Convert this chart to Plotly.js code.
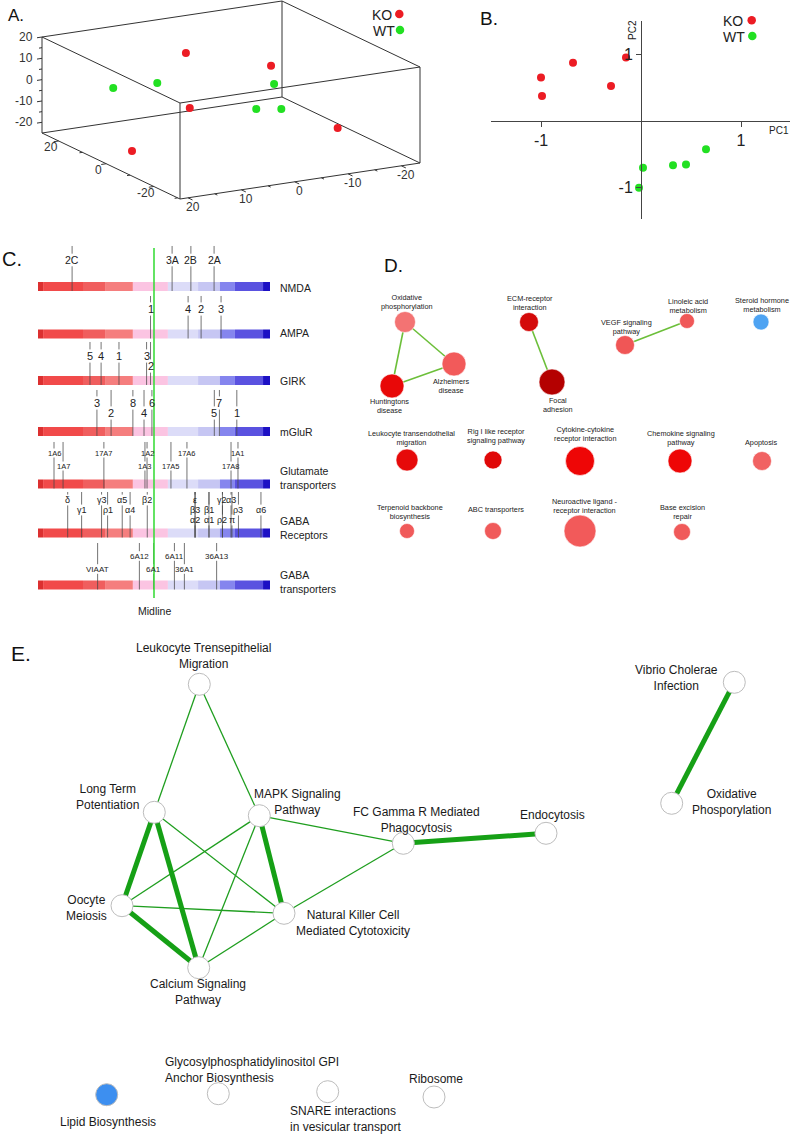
<!DOCTYPE html>
<html><head><meta charset="utf-8">
<script src="https://cdn.plot.ly/plotly-3.0.1.min.js"></script>
<style>html,body{margin:0;padding:0;background:#fff}</style>
</head><body><div id="chart" style="width:800px;height:1135px"></div>
<script>
const F = 'Liberation Sans, Arial, sans-serif';
// ---------- Panel A: 3D PCA (estimated; depth axis, front axis, vertical axis) ----------
const koDepth = [10, 0, -10, -5, -15];
const koFront = [2.1, -9.4, 10.3, 18.9, -15.2];
const koVert  = [14.3, 9.3, 2.2, -17.4, -14.0];
const wtDepth = [15, 5, 5, -5, -5];
const wtFront = [13.5, 9.7, -12.2, -4.4, -9.1];
const wtVert  = [-0.5, 5.8, -2.9, -6.4, -8.1];
const aFrontTicks = [-20, -10, 0, 10, 20];
const aDepthTicks = [-20, 0, 20];
const aVertTicks = [-20, -10, 0, 10, 20];
// ---------- Panel B: 2D PCA ----------
const koPC1 = [-1.0, -0.99, -0.68, -0.30, -0.15];
const koPC2 = [0.65, 0.37, 0.87, 0.52, 0.95];
const wtPC1 = [0.02, -0.02, 0.32, 0.45, 0.65];
const wtPC2 = [-0.71, -1.01, -0.67, -0.66, -0.43];
// ---------- Panel C: gene positions along ranked bar (0-100, midline 50) ----------
const cRowNames = ['NMDA','AMPA','GIRK','mGluR','Glutamate<br>transporters','GABA<br>Receptors','GABA<br>transporters'];
const cSegBreaks = [0, 2.2, 19.4, 28.9, 40.9, 56, 69, 78.4, 84.9, 97, 100];
const cSegColors = ['#dc3030','#f14a4a','#f05e5e','#f57e7e','#fbc4e2','#dcdcf8','#c6c6f3','#8585ee','#5a52e0','#1c10c4'];
const cMidline = 50;
const nmdaGenes = ['2C','3A','2B','2A'];
const nmdaPos = [14.7, 57.8, 65.9, 75.9];
const ampaGenes = ['1','4','2','3'];
const ampaPos = [48.5, 64.7, 70.3, 78.9];
const girkGenes = ['5','4','1','3','2'];
const girkPos = [22.4, 27.2, 34.9, 46.8, 48.5];
const mglurGenes = ['3','2','8','4','6','7','5','1'];
const mglurPos = [25.4, 31.5, 40.9, 45.7, 49.1, 78.2, 76.0, 85.7];
const glutGenes = ['1A6','1A7','17A7','1A3','1A2','17A5','17A6','17A8','1A1'];
const glutPos = [6.9, 10.8, 28.4, 46.1, 47.0, 57.3, 64.2, 83.2, 86.2];
const gabarGenes = ['δ','γ1','γ3','ρ1','α5','α4','β2','ε','β3','α2','β1','α1','γ2','ρ2','α3','π','ρ3','α6'];
const gabarPos = [12.8, 18.8, 27.4, 30.0, 36.3, 39.7, 47.1, 67.7, 67.7, 67.7, 73.7, 73.7, 79.5, 79.5, 83.2, 83.6, 86.4, 96.1];
const gabatGenes = ['VIAAT','6A12','6A1','6A11','36A1','36A13'];
const gabatPos = [25.7, 43.7, 49.8, 58.8, 63.1, 77.0];
const cGenes = [nmdaGenes, ampaGenes, girkGenes, mglurGenes, glutGenes, gabarGenes, gabatGenes];
const cPos = [nmdaPos, ampaPos, girkPos, mglurPos, glutPos, gabarPos, gabatPos];
// ---------- Panel D: KEGG network ----------
const dNames = ['Oxidative<br>phosphorylation','Alzheimers<br>disease','Huntingtons<br>disease','ECM-receptor<br>interaction','Focal<br>adhesion','VEGF signaling<br>pathway','Linoleic acid<br>metabolism','Steroid hormone<br>metabolism','Leukocyte transendothelial<br>migration','Rig I like receptor<br>signaling pathway','Cytokine-cytokine<br>receptor interaction','Chemokine signaling<br>pathway','Apoptosis','Terpenoid backbone<br>biosynthesis','ABC transporters','Neuroactive ligand -<br>receptor interaction','Base excision<br>repair'];
const dSize = [21, 24, 24, 19, 26, 19, 15, 16, 22, 18, 29, 24, 19, 15, 17, 32, 17];
const dColor = ['#f37373','#f25a5a','#e80808','#d40a0a','#b40000','#f05656','#f05858','#4ea3f2','#e60a0a','#e00808','#ee0606','#ee0606','#f16262','#f05a5a','#f05a5a','#f25a5a','#f05a5a'];
const dEdges = [[0,1],[0,2],[2,1],[3,4],[5,6]];
// ---------- Panel E: pathway network ----------
const eNames = ['Leukocyte Trensepithelial<br>Migration','Long Term<br>Potentiation','MAPK Signaling<br>Pathway','FC Gamma R Mediated<br>Phagocytosis','Endocytosis','Oocyte<br>Meiosis','Natural Killer Cell<br>Mediated Cytotoxicity','Calcium Signaling<br>Pathway','Vibrio Cholerae<br>Infection','Oxidative<br>Phosporylation','Lipid Biosynthesis','Glycosylphosphatidylinositol GPI<br>Anchor Biosynthesis','SNARE interactions<br>in vesicular transport','Ribosome'];
const eFill = ['#fff','#fff','#fff','#fff','#fff','#fff','#fff','#fff','#fff','#fff','#3d8ff0','#fff','#fff','#fff'];
const eThin = [[0,1],[0,2],[1,6],[2,5],[2,7],[2,3],[3,6],[5,6],[7,6]];
const eThick = [[1,5],[1,7],[2,6],[3,4],[5,7],[8,9]];

// ===== layout-only settings =====
// Panel A oblique projection of the 3D box onto the page
const boxFront = [-23.5, 21.5], boxDepth = [-31, 27], boxVert = [-25, 20];
const boxOrigin = [42, 37];            // page position of (front max, depth max, vert max)
const frontVec = [240, -36], depthVec = [138, 66], vertVec = [0, 96];
function proj(f, d, z){
  const a = (boxFront[1]-f)/(boxFront[1]-boxFront[0]);
  const b = (boxDepth[1]-d)/(boxDepth[1]-boxDepth[0]);
  const c = (boxVert[1]-z)/(boxVert[1]-boxVert[0]);
  return [boxOrigin[0]+a*frontVec[0]+b*depthVec[0]+c*vertVec[0], boxOrigin[1]+a*frontVec[1]+b*depthVec[1]+c*vertVec[1]];
}
const dX = [405, 454, 392, 529, 552, 625, 687, 761, 407, 493, 580, 680, 762, 407, 493, 580, 682];
const dY = [322, 364, 386, 322, 382, 345, 321, 322, 460, 460, 461, 461, 461, 531, 531, 531, 532];
const dLX = [407, 451, 389, 530, 558, 626, 688, 762, 411, 496, 585, 681, 761, 410, 496, 584, 682];
const dLY = [301.5, 385.7, 405.7, 303, 405, 327, 306, 304.7, 437.5, 436.2, 434, 437.8, 442.3, 511.5, 509.7, 505.7, 511.5];
const eX = [199.3, 154.3, 259.3, 403.3, 546, 122, 284, 198.7, 734.3, 671.7, 106.7, 218.3, 327.7, 434];
const eY = [684.3, 812.3, 815.7, 843.3, 833.3, 905.7, 913.3, 967.7, 682.3, 803.3, 1094.7, 1093.7, 1091.7, 1097];
const eLX = [203, 107, 297, 416, 552.7, 86.7, 352.5, 198, 676.7, 731, 108.3, 162.7, 288.3, 436];
const eLY = [656, 796.7, 802, 819.7, 815, 908.3, 922.5, 992, 677.7, 802.3, 1121.7, 1069.7, 1119.2, 1079];
const eLAnchor = ['center','center','center','center','center','center','center','center','center','center','center','left','left','center'];
const cTiers = [
  [0,0,0,0],
  [0,0,0,0],
  [0,0,0,0,1],
  [0,1,0,1,0,0,1,1],
  [0,1,0,1,0,1,0,1,0],
  [0,1,0,1,0,1,0,0,1,2,1,2,0,2,0,2,1,1],
  [1,0,1,0,1,0]
];
const cLayout = [
  {bar:282, stub:246, tiers:[260], fs:10.5},
  {bar:329.5, stub:296, tiers:[309], fs:11},
  {bar:376, stub:342, tiers:[356,366], fs:11},
  {bar:427, stub:390, tiers:[403,413], fs:11},
  {bar:479.5, stub:442, tiers:[453,466], fs:7.5},
  {bar:528.5, stub:492, tiers:[500,510,520], fs:9},
  {bar:580.5, stub:543, tiers:[556,569], fs:8}
];
const cLabelY = [287.7, 333.3, 381, 431.7, 478, 528.3, 582];
const barH = 9;

const KO = '#ec1c24', WT = '#22e022';
const traces = [];
const shapes = [];
const ann = [];
function A(o){ ann.push(Object.assign({showarrow:false, font:{family:F, size:12, color:'#222'}}, o)); }
function edgeXY(pairs, xs, ys){ const X=[],Y=[]; pairs.forEach(([a,b])=>{X.push(xs[a],xs[b],null);Y.push(ys[a],ys[b],null);}); return {X,Y}; }

// ===== Panel A =====
{
  const bx=[], by=[];
  const seg = (p,q)=>{ bx.push(p[0],q[0],null); by.push(p[1],q[1],null); };
  const Fv = boxFront, Dv = boxDepth, Zv = boxVert;
  // 12 box edges
  for (const d of Dv) for (const z of Zv) seg(proj(Fv[0],d,z), proj(Fv[1],d,z));
  for (const f of Fv) for (const z of Zv) seg(proj(f,Dv[0],z), proj(f,Dv[1],z));
  for (const f of Fv) for (const d of Dv) seg(proj(f,d,Zv[0]), proj(f,d,Zv[1]));
  // vertical axis ticks (left back edge)
  for (let v=-20; v<=20; v+=5){
    const p = proj(Fv[1], Dv[1], v); const L = (v%10===0)?5:3;
    seg(p, [p[0]-L, p[1]+L*0.15]);
  }
  aVertTicks.forEach(v=>{ const p = proj(Fv[1], Dv[1], v); A({xref:'x3', yref:'y3', x:p[0]-7, y:p[1], xanchor:'right', text:String(v).replace('−','-'), font:{family:F, size:12, color:'#333'}}); });
  // depth axis ticks (bottom left edge)
  for (let v=-30; v<=20; v+=10){
    const p = proj(Fv[1], v, Zv[0]); const L = (v%20===0)?5:3;
    seg(p, [p[0]-L, p[1]+L*0.15]);
  }
  aDepthTicks.forEach(v=>{ const p = proj(Fv[1], v, Zv[0]); A({xref:'x3', yref:'y3', x:p[0]-8, y:p[1]+6.5, text:String(v), font:{family:F, size:12, color:'#333'}}); });
  // front axis ticks (bottom front edge)
  for (let v=-20; v<=20; v+=5){
    const p = proj(v, Dv[0], Zv[0]); const L = (v%10===0)?5:3;
    seg(p, [p[0]+L*0.9, p[1]+L*0.43]);
  }
  aFrontTicks.forEach(v=>{ const p = proj(v, Dv[0], Zv[0]); A({xref:'x3', yref:'y3', x:p[0]+5, y:p[1]+9.5, text:String(v), font:{family:F, size:12, color:'#333'}}); });
  traces.push({type:'scatter', mode:'lines', x:bx, y:by, xaxis:'x3', yaxis:'y3', line:{color:'#333', width:1}, hoverinfo:'skip'});
  const pk = koFront.map((f,i)=>proj(f, koDepth[i], koVert[i]));
  const pw = wtFront.map((f,i)=>proj(f, wtDepth[i], wtVert[i]));
  traces.push({type:'scatter', mode:'markers', x:pk.map(p=>p[0]), y:pk.map(p=>p[1]), xaxis:'x3', yaxis:'y3', marker:{size:8, color:KO, opacity:1}, hoverinfo:'skip'});
  traces.push({type:'scatter', mode:'markers', x:pw.map(p=>p[0]), y:pw.map(p=>p[1]), xaxis:'x3', yaxis:'y3', marker:{size:8, color:WT, opacity:1}, hoverinfo:'skip'});
}

// ===== Panel B =====
traces.push({type:'scatter', mode:'markers', x:koPC1, y:koPC2, xaxis:'x', yaxis:'y', marker:{size:8, color:KO}, hoverinfo:'skip'});
traces.push({type:'scatter', mode:'markers', x:wtPC1, y:wtPC2, xaxis:'x', yaxis:'y', marker:{size:8, color:WT}, hoverinfo:'skip'});

// legends A & B
traces.push({type:'scatter', mode:'markers', x:[399.3, 400, 751.7, 752.3], y:[14, 30, 20.3, 36], xaxis:'x3', yaxis:'y3', marker:{size:8.5, color:[KO, WT, KO, WT], opacity:1}, hoverinfo:'skip'});
A({xref:'x3', yref:'y3', x:382, y:14.5, text:'KO', font:{family:F, size:14, color:'#222'}});
A({xref:'x3', yref:'y3', x:384, y:30.5, text:'WT', font:{family:F, size:14, color:'#222'}});
A({xref:'x3', yref:'y3', x:733, y:21, text:'KO', font:{family:F, size:14, color:'#222'}});
A({xref:'x3', yref:'y3', x:733.5, y:36.5, text:'WT', font:{family:F, size:14, color:'#222'}});
A({xref:'x3', yref:'y3', x:779, y:130, text:'PC1', font:{family:F, size:10, color:'#222'}});
A({xref:'x3', yref:'y3', x:632, y:30, text:'PC2', textangle:-90, font:{family:F, size:10, color:'#222'}});

// Panel letters
[['A.',16,15,17],['B.',489,18,19],['C.',12,259,20],['D.',393,265,19],['E.',21,653,21]].forEach(([t,x,y,s])=>A({xref:'x3', yref:'y3', x:x, y:y, text:t, font:{family:F, size:s, color:'#111'}}));

// ===== Panel C =====
cLayout.forEach((L)=>{
  for (let i=0;i<cSegColors.length;i++){
    shapes.push({type:'rect', xref:'x2', yref:'y2', x0:cSegBreaks[i], x1:cSegBreaks[i+1], y0:L.bar, y1:L.bar+barH, fillcolor:cSegColors[i], line:{width:0}, layer:'below'});
  }
});
const gx=[], gy=[];
cGenes.forEach((genes, r)=>{
  const L = cLayout[r];
  genes.forEach((g, i)=>{
    const p = cPos[r][i];
    const ty = L.tiers[cTiers[r][i]];
    const h = L.fs*0.6;
    if (ty - h > L.stub + 1){ gx.push(p,p,null); gy.push(L.stub, ty-h, null); }
    gx.push(p,p,null); gy.push(ty+h, L.bar+barH, null);
    A({xref:'x2', yref:'y2', x:p, y:ty, text:g, font:{family:F, size:L.fs, color:'#222'}});
  });
  A({xref:'x3', yref:'y3', x:278, y:cLabelY[r], xanchor:'left', align:'left', text:cRowNames[r], font:{family:F, size:10.5, color:'#222'}});
});
traces.push({type:'scatter', mode:'lines', x:gx, y:gy, xaxis:'x2', yaxis:'y2', line:{color:'rgba(70,70,70,0.75)', width:1}, hoverinfo:'skip'});
traces.push({type:'scatter', mode:'lines', x:[cMidline, cMidline], y:[248, 598], xaxis:'x2', yaxis:'y2', line:{color:'#3ddc3d', width:1.6}, hoverinfo:'skip'});
A({xref:'x2', yref:'y2', x:cMidline, y:611, text:'Midline', font:{family:F, size:10.5, color:'#222'}});

// ===== Panel D =====
const dE = edgeXY(dEdges, dX, dY);
traces.push({type:'scatter', mode:'lines', x:dE.X, y:dE.Y, xaxis:'x3', yaxis:'y3', line:{color:'#6cbf3a', width:1.6}, hoverinfo:'skip'});
traces.push({type:'scatter', mode:'markers', x:dX, y:dY, xaxis:'x3', yaxis:'y3', marker:{size:dSize, color:dColor, opacity:1, line:{color:'#fff', width:0.6}}, hoverinfo:'skip'});
dNames.forEach((t,i)=>A({xref:'x3', yref:'y3', x:dLX[i], y:dLY[i], text:t, font:{family:F, size:7.3, color:'#222'}}));

// ===== Panel E =====
const eT = edgeXY(eThin, eX, eY), eK = edgeXY(eThick, eX, eY);
traces.push({type:'scatter', mode:'lines', x:eT.X, y:eT.Y, xaxis:'x3', yaxis:'y3', line:{color:'#1f9e1f', width:1.3}, hoverinfo:'skip'});
traces.push({type:'scatter', mode:'lines', x:eK.X, y:eK.Y, xaxis:'x3', yaxis:'y3', line:{color:'#16a016', width:5}, hoverinfo:'skip'});
traces.push({type:'scatter', mode:'markers', x:eX, y:eY, xaxis:'x3', yaxis:'y3', marker:{size:22, color:eFill, opacity:1, line:{color:'#bdbdbd', width:1}}, hoverinfo:'skip'});
eNames.forEach((t,i)=>A({xref:'x3', yref:'y3', x:eLX[i], y:eLY[i], xanchor:eLAnchor[i], align:eLAnchor[i], text:t, font:{family:F, size:12, color:'#1a1a1a'}}));

const layout = {
  width:800, height:1135, margin:{l:0,r:0,t:0,b:0}, paper_bgcolor:'#fff', plot_bgcolor:'rgba(0,0,0,0)', showlegend:false,
  font:{family:F, color:'#222'},
  xaxis:{domain:[0.61375,0.9875], range:[-1.5,1.49], anchor:'free', position:0.8938, showline:true, linecolor:'#444', linewidth:1, ticks:'outside', ticklen:5, tickcolor:'#444', tickvals:[-1,1], ticktext:['-1','1'], showgrid:false, zeroline:false, tickfont:{family:F, size:16, color:'#222'}, fixedrange:true},
  yaxis:{domain:[0.80705,0.9815], range:[-1.48,1.5], anchor:'free', position:0.80125, showline:true, linecolor:'#444', linewidth:1, ticks:'outside', ticklen:5, tickcolor:'#444', tickvals:[-1,1], ticktext:['-1','1'], showgrid:false, zeroline:false, tickfont:{family:F, size:16, color:'#222'}, fixedrange:true},
  xaxis2:{domain:[0.0475,0.3375], range:[0,100], visible:false, fixedrange:true},
  yaxis2:{domain:[0.45374,0.78855], range:[620,240], visible:false, fixedrange:true},
  xaxis3:{domain:[0,1], range:[0,800], visible:false, fixedrange:true},
  yaxis3:{domain:[0,1], range:[1135,0], visible:false, fixedrange:true},
  shapes:shapes, annotations:ann
};
Plotly.newPlot('chart', traces, layout, {displayModeBar:false, staticPlot:true});
</script></body></html>
